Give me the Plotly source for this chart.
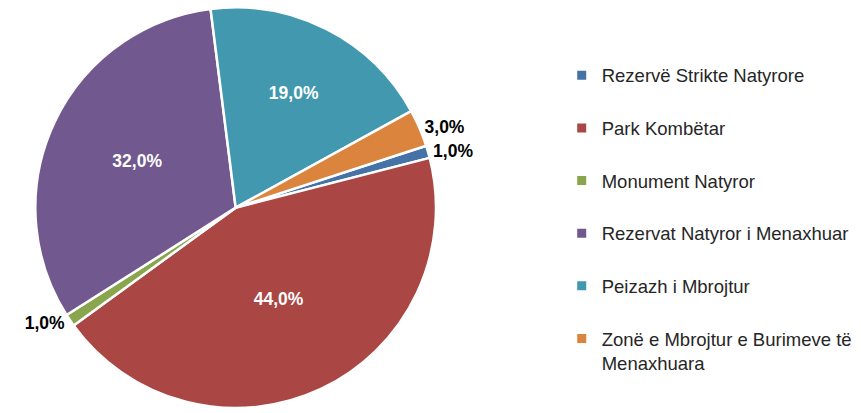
import plotly.graph_objects as go

labels = ["Rezervë Strikte Natyrore", "Park Kombëtar", "Monument Natyror",
          "Rezervat Natyror i Menaxhuar", "Peizazh i Mbrojtur",
          "Zonë e Mbrojtur e Burimeve të<br>Menaxhuara"]
values = [1.0, 44.0, 1.0, 32.0, 19.0, 3.0]
colors = ["#4572A7", "#AA4643", "#89A54E", "#71588F", "#4198AF", "#DB843D"]
positions = ["outside", "inside", "outside", "inside", "inside", "outside"]

texts = [("%.1f%%" % v).replace(".", ",") for v in values]

fig = go.Figure()
fig.add_trace(go.Pie(
    labels=labels, values=values, sort=False, direction="clockwise",
    rotation=72, text=texts, textinfo="text", textposition=positions,
    insidetextorientation="horizontal",
    marker=dict(colors=colors, line=dict(color="white", width=2.5)),
    insidetextfont=dict(color="white", size=17.5, family="Liberation Sans", weight="bold"),
    outsidetextfont=dict(color="black", size=17.5, family="Liberation Sans", weight="bold"),
    domain=dict(x=[0, 0.504], y=[0, 0.982]),
    showlegend=False, hoverinfo="label+percent",
))

for lab, col in zip(labels, colors):
    fig.add_trace(go.Scatter(
        x=[None], y=[None], mode="markers", name=lab, legendgroup=lab,
        marker=dict(symbol="square", size=9, color=col),
        showlegend=True,
    ))

fig.update_layout(
    width=861, height=413, margin=dict(l=0, r=0, t=0, b=0),
    paper_bgcolor="white", plot_bgcolor="white",
    xaxis=dict(visible=False), yaxis=dict(visible=False),
    legend=dict(x=0.642, y=0.861, xanchor="left", yanchor="top",
                font=dict(family="Liberation Sans", size=18.5, color="#262626"),
                tracegroupgap=25.6, valign="top", itemwidth=30),
)

fig.write_html("out.html")
